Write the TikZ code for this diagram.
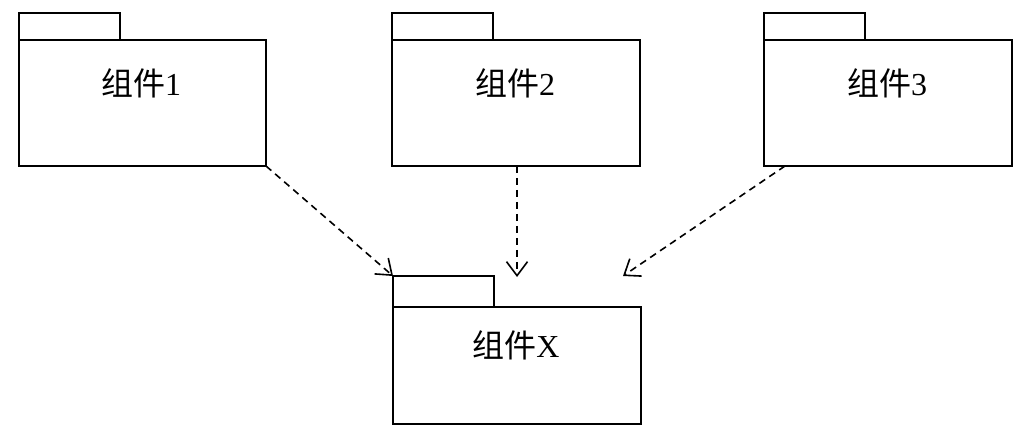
\documentclass[tikz,border=0pt]{standalone}
\usepackage{fontspec}
\setmainfont{Liberation Serif}
\newfontfamily\cjk{Noto Sans CJK SC}
\usetikzlibrary{arrows.meta}
\begin{document}
\begin{tikzpicture}[x=1pt,y=-1pt,
  pkg/.style={draw, line width=1.8pt, anchor=north west, inner sep=0pt, outer sep=0pt},
  lbl/.style={font=\fontsize{32}{36}\selectfont, inner sep=0pt},
  dep/.style={line width=1.6pt, dash pattern=on 7pt off 5pt, -{Straight Barb[length=14pt,width=21pt,line width=1.6pt]}}]
\useasboundingbox (0,0) rectangle (1030,438);
% package 1
\node[pkg, minimum width=101pt, minimum height=27pt] (t1) at (19,13) {};
\node[pkg, minimum width=247pt, minimum height=126pt] (b1) at (19,40) {};
\node[lbl] (l1) at (141,83) {{\cjk 组件}1};
% package 2
\node[pkg, minimum width=101pt, minimum height=27pt] (t2) at (392,13) {};
\node[pkg, minimum width=248pt, minimum height=126pt] (b2) at (392,40) {};
\node[lbl] (l2) at (515,83) {{\cjk 组件}2};
% package 3
\node[pkg, minimum width=101pt, minimum height=27pt] (t3) at (764,13) {};
\node[pkg, minimum width=248pt, minimum height=126pt] (b3) at (764,40) {};
\node[lbl] (l3) at (887,83) {{\cjk 组件}3};
% package X
\node[pkg, minimum width=101pt, minimum height=31pt] (tX) at (393,276) {};
\node[pkg, minimum width=248pt, minimum height=117pt] (bX) at (393,307) {};
\node[lbl] (lX) at (516,345) {{\cjk 组件}X};
% connector ends
\coordinate (e2) at (517,277);
\coordinate (s3) at (785,166);
\coordinate (e3) at (623,276);
\draw[dep] (b1.south east) -- (tX.north west);
\draw[dep] (b2.south) ++(1,0) coordinate (s2) -- (e2);
\draw[dep] (s3) -- (e3);
\end{tikzpicture}
\end{document}
